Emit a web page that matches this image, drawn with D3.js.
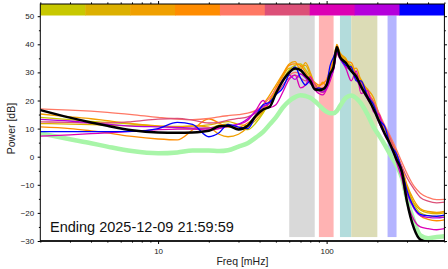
<!DOCTYPE html>
<html>
<head>
<meta charset="utf-8">
<script src="https://cdn.jsdelivr.net/npm/d3@7"></script>
<style>
  body { margin: 0; background: #fff; }
  svg { display: block; font-family: "Liberation Sans", Arial, Helvetica, sans-serif; }
  .axis path, .axis line { stroke: #000; }
  .axis text { fill: #222; font-size: 8px; }
</style>
</head>
<body>
<div id="chart"></div>
<script>
// Frequency grid (mHz) shared by every spectrum.
const freqs = [2, 3, 4, 5, 7, 10, 13, 16, 20, 23, 26, 30, 34, 38, 42, 46, 50, 55, 60, 65, 70, 75, 80, 85, 90, 95, 100, 105, 110, 115, 120, 130, 140, 150, 160, 175, 190, 205, 220, 240, 260, 280, 300, 330, 360, 400, 450, 500]

// Colours of the hourly spectra (same order as the colour bar on top).
const hourColours = ["#c8c800", "#dcb000", "#f0a000", "#ff8c00", "#ff7864", "#dc5078", "#dc00b4", "#b400dc", "#0000ff"]

// Power [dB] of each hourly spectrum.
const yellowSeries = [14.0, 13.2, 12.6, 12.2, 11.6, 10.8, 10.3, 10.0, 10.2, 11.2, 11.6, 10.0, 9.6, 12.0, 15.5, 19.5, 23.5, 27.5, 31.0, 32.5, 33.0, 31.0, 28.5, 25.5, 24.0, 23.0, 24.5, 29.0, 33.0, 38.0, 36.5, 33.5, 32.5, 28.5, 26.0, 22.5, 18.5, 14.0, 10.0, 5.0, 0.5, -4.5, -11.0, -17.0, -20.0, -21.0, -21.3, -21.0]
const goldSeries = [11.8, 11.6, 11.4, 11.2, 11.0, 10.8, 10.8, 10.9, 11.3, 12.0, 12.5, 11.5, 11.0, 13.0, 16.0, 20.0, 24.0, 28.5, 31.5, 31.0, 32.0, 32.5, 29.0, 25.0, 24.0, 24.5, 24.5, 29.5, 33.5, 39.0, 37.0, 34.5, 32.0, 29.5, 27.5, 23.0, 19.5, 14.5, 10.5, 5.5, 1.0, -4.5, -10.5, -16.5, -19.0, -20.0, -20.3, -20.0]
const orangeSeries = [15.2, 14.2, 13.5, 12.8, 11.8, 11.0, 10.6, 11.0, 10.5, 8.0, 7.1, 8.0, 10.5, 14.0, 18.5, 22.0, 25.5, 29.5, 33.0, 33.8, 31.0, 33.5, 30.0, 26.0, 25.0, 26.5, 25.0, 30.0, 34.0, 40.0, 37.0, 35.0, 31.0, 31.5, 27.0, 24.0, 21.0, 15.0, 11.0, 6.5, 1.5, -4.0, -10.0, -15.5, -18.5, -19.5, -19.8, -19.5]
const darkOrangeSeries = [10.6, 10.0, 9.2, 8.5, 7.2, 6.3, 6.0, 9.5, 13.5, 12.0, 10.5, 10.5, 12.0, 14.0, 16.5, 20.0, 24.5, 29.0, 32.5, 33.0, 32.5, 30.0, 27.5, 26.5, 25.5, 26.0, 27.5, 31.0, 35.0, 39.5, 36.5, 34.0, 33.5, 29.0, 27.0, 23.0, 19.0, 14.0, 10.5, 5.0, 0.0, -5.5, -12.0, -18.0, -21.0, -22.3, -22.8, -22.5]
const salmonSeries = [17.0, 16.6, 16.2, 15.8, 15.0, 14.0, 13.4, 13.2, 13.6, 14.2, 14.6, 15.0, 15.5, 16.5, 18.5, 21.0, 24.0, 27.0, 29.0, 30.0, 29.5, 28.5, 27.0, 25.5, 24.5, 24.5, 26.0, 29.0, 32.5, 37.0, 35.5, 33.0, 31.0, 29.0, 26.5, 23.0, 19.5, 15.5, 11.5, 7.0, 2.5, -2.0, -6.0, -10.5, -13.0, -14.5, -15.3, -15.2]
const pinkSeries = [12.4, 12.2, 12.0, 12.0, 12.5, 13.4, 13.6, 13.0, 12.0, 12.2, 13.0, 13.6, 14.2, 15.5, 17.5, 19.5, 22.0, 25.5, 28.0, 29.0, 28.0, 27.0, 28.0, 26.0, 23.5, 23.0, 25.0, 28.0, 31.5, 36.5, 35.0, 32.5, 31.5, 28.0, 26.5, 22.0, 19.5, 14.5, 11.0, 6.0, 1.0, -3.5, -7.5, -11.5, -14.5, -15.8, -16.4, -16.2]
const magentaSeries = [7.3, 7.8, 8.2, 8.5, 9.0, 9.6, 9.8, 9.8, 9.5, 10.0, 10.8, 11.5, 13.0, 16.5, 20.0, 17.5, 18.5, 23.0, 27.5, 29.0, 24.5, 25.5, 28.5, 24.0, 22.5, 22.0, 24.0, 27.0, 31.0, 37.0, 35.0, 31.5, 27.0, 30.5, 22.5, 23.5, 16.0, 15.0, 8.0, 4.5, -2.0, -8.0, -16.0, -22.5, -25.0, -25.6, -26.0, -25.6]
const purpleSeries = [13.3, 12.7, 12.0, 11.5, 10.9, 10.6, 10.4, 10.2, 10.2, 10.5, 11.0, 11.6, 13.5, 16.0, 18.0, 19.0, 22.5, 27.5, 29.0, 27.5, 29.5, 28.0, 26.0, 24.5, 23.5, 23.0, 24.5, 28.0, 31.0, 37.5, 35.0, 32.0, 30.5, 27.5, 24.5, 20.5, 17.0, 12.0, 8.0, 4.0, -1.0, -6.5, -13.0, -18.5, -21.0, -21.6, -21.8, -21.5]
const blueSeries = [8.9, 8.9, 8.9, 8.9, 9.0, 10.0, 12.2, 11.5, 7.1, 8.5, 11.5, 10.5, 10.0, 14.5, 18.5, 19.5, 22.0, 24.5, 29.5, 32.0, 28.0, 25.5, 27.0, 24.0, 24.5, 24.0, 26.0, 32.5, 35.5, 38.0, 35.5, 32.5, 32.0, 27.0, 27.0, 21.5, 18.5, 13.0, 11.0, 4.0, 1.0, -5.0, -12.0, -18.0, -20.5, -21.0, -21.2, -20.8]

// Daily mean spectrum and the reference noise model.
const meanSeries = [16.6, 13.9, 12.2, 11.0, 9.4, 8.6, 8.5, 8.6, 9.2, 10.8, 11.0, 9.7, 11.0, 14.5, 16.8, 17.8, 22.5, 27.0, 30.0, 31.4, 30.8, 28.8, 27.0, 24.0, 23.7, 24.0, 25.5, 29.5, 32.0, 39.0, 35.5, 33.4, 30.5, 28.5, 25.0, 21.0, 17.0, 12.5, 8.5, 4.0, -1.0, -5.5, -16.0, -25.5, -29.5, -30.3, -30.3, -30.3]
const noiseSeries = [8.3, 6.2, 4.8, 3.6, 2.0, 1.2, 1.5, 2.2, 2.2, 2.0, 2.3, 3.6, 4.8, 6.8, 8.8, 11.5, 14.0, 17.5, 19.8, 21.2, 21.9, 21.6, 21.0, 19.8, 18.4, 17.0, 16.0, 15.5, 15.5, 16.3, 18.0, 21.0, 21.8, 20.8, 19.0, 15.0, 10.5, 7.5, 4.5, 0.5, -3.0, -7.5, -15.0, -23.0, -28.0, -29.0, -28.6, -28.3]

// Frequency bands (mHz) shaded behind the spectra.
const bandStarts = [60, 90, 120, 140, 230]
const bandEnds = [85, 110, 140, 200, 260]
const bandColours = ["#d9d9d9", "#ffb3b3", "#b3dcdc", "#dcdcb6", "#b4b4ff"]

const title = "Ending 2025-12-09 21:59:59"

const width = 448
const height = 269
const plot = {left: 40.3, right: 444.4, top: 16.2, bottom: 241}
const barTop = 4
const barBottom = 15.5

/**
 * Builds the whole chart.
 */
const drawChart = () => {
  const svg = d3.select("#chart")
    .append("svg")
    .attr("width", width)
    .attr("height", height)

  const xScale = d3.scaleLog()
    .domain([2, 500])
    .range([plot.left, plot.right])
  const yScale = d3.scaleLinear()
    .domain([-30, 50])
    .range([plot.bottom, plot.top])

  _drawBands(svg, xScale, yScale)
  _drawSpectra(svg, xScale, yScale)
  _drawColourBar(svg)
  _drawAxes(svg, xScale, yScale)

  svg.append("text")
    .attr("x", 50)
    .attr("y", 231.5)
    .attr("font-size", "14.5px")
    .attr("fill", "#111")
    .text(title)
}

/**
 * Shaded frequency bands.
 */
const _drawBands = (svg, xScale, yScale) => {
  svg.append("g")
    .selectAll("rect")
    .data(bandStarts)
    .join("rect")
    .attr("x", d => xScale(d))
    .attr("width", (d, i) => xScale(bandEnds[i]) - xScale(d))
    .attr("y", barBottom)
    .attr("height", yScale(-28.6) - barBottom)
    .attr("fill", (d, i) => bandColours[i])
}

/**
 * Hourly spectra, then the noise model and the mean on top.
 */
const _drawSpectra = (svg, xScale, yScale) => {
  svg.append("clipPath")
    .attr("id", "plot-clip")
    .append("rect")
    .attr("x", plot.left)
    .attr("y", barBottom)
    .attr("width", plot.right - plot.left)
    .attr("height", plot.bottom - barBottom)

  const line = d3.line()
    .x((d, i) => xScale(freqs[i]))
    .y(d => yScale(d))
    .curve(d3.curveMonotoneX)

  const g = svg.append("g").attr("clip-path", "url(#plot-clip)")

  g.append("path")
    .datum(noiseSeries)
    .attr("d", line)
    .attr("fill", "none")
    .attr("stroke", "#a8f5a8")
    .attr("stroke-width", 4.5)

  const hourly = [yellowSeries, goldSeries, orangeSeries, darkOrangeSeries, salmonSeries, pinkSeries, magentaSeries, purpleSeries, blueSeries]
  hourly.forEach((series, i) => {
    g.append("path")
      .datum(series)
      .attr("d", line)
      .attr("fill", "none")
      .attr("stroke", hourColours[i])
      .attr("stroke-width", 1.3)
  })

  g.append("path")
    .datum(meanSeries)
    .attr("d", line)
    .attr("fill", "none")
    .attr("stroke", "#000")
    .attr("stroke-width", 2.5)
}

/**
 * Colour bar of the hours above the plot.
 */
const _drawColourBar = (svg) => {
  const barScale = d3.scaleBand()
    .domain(d3.range(hourColours.length))
    .range([plot.left, plot.right])

  svg.append("g")
    .selectAll("rect")
    .data(hourColours)
    .join("rect")
    .attr("x", (d, i) => barScale(i))
    .attr("y", barTop)
    .attr("width", barScale.bandwidth() + 0.5)
    .attr("height", barBottom - barTop)
    .attr("fill", d => d)
}

/**
 * Axes on all four sides, with minor ticks.
 */
const _drawAxes = (svg, xScale, yScale) => {
  const logTicks = xScale.ticks()
  const majorX = [10, 100]
  const minorX = logTicks.filter(d => !majorX.includes(d))
  const majorY = d3.range(-30, 51, 10)
  const minorY = d3.range(-25, 50, 10)

  // Bottom
  svg.append("g")
    .attr("class", "axis")
    .attr("transform", "translate(0," + plot.bottom + ")")
    .call(d3.axisBottom(xScale).tickValues(majorX).tickFormat(d3.format("d")).tickSize(3).tickPadding(4.5))
  svg.append("g")
    .attr("class", "axis")
    .attr("transform", "translate(0," + plot.bottom + ")")
    .call(d3.axisBottom(xScale).tickValues(minorX).tickFormat("").tickSize(1.6))

  // Top (above the colour bar)
  svg.append("g")
    .attr("class", "axis")
    .attr("transform", "translate(0," + barTop + ")")
    .call(d3.axisTop(xScale).tickValues(majorX).tickFormat("").tickSize(3))
  svg.append("g")
    .attr("class", "axis")
    .attr("transform", "translate(0," + barTop + ")")
    .call(d3.axisTop(xScale).tickValues(minorX).tickFormat("").tickSize(1.6))

  // Left
  svg.append("g")
    .attr("class", "axis")
    .attr("transform", "translate(" + plot.left + ",0)")
    .call(d3.axisLeft(yScale).tickValues(majorY).tickFormat(d => d < 0 ? "\u2212" + Math.abs(d) : d).tickSize(2.6).tickPadding(3.5))
  svg.append("g")
    .attr("class", "axis")
    .attr("transform", "translate(" + plot.left + ",0)")
    .call(d3.axisLeft(yScale).tickValues(minorY).tickFormat("").tickSize(1.4))

  // Right
  svg.append("g")
    .attr("class", "axis")
    .attr("transform", "translate(" + plot.right + ",0)")
    .call(d3.axisRight(yScale).tickValues(majorY).tickFormat("").tickSize(2.6))
  svg.append("g")
    .attr("class", "axis")
    .attr("transform", "translate(" + plot.right + ",0)")
    .call(d3.axisRight(yScale).tickValues(minorY).tickFormat("").tickSize(1.4))

  // Remove the domain lines and draw the frame once.
  svg.selectAll(".axis .domain").remove()
  svg.append("rect")
    .attr("x", plot.left)
    .attr("y", barTop)
    .attr("width", plot.right - plot.left)
    .attr("height", plot.bottom - barTop)
    .attr("fill", "none")
    .attr("stroke", "#000")
    .attr("stroke-width", 1)
  svg.append("line")
    .attr("x1", plot.left)
    .attr("x2", plot.right)
    .attr("y1", plot.bottom)
    .attr("y2", plot.bottom)
    .attr("stroke", "#000")
    .attr("stroke-width", 1.4)

  svg.append("text")
    .attr("transform", "translate(15," + ((plot.top + plot.bottom) / 2) + ") rotate(-90)")
    .attr("text-anchor", "middle")
    .attr("font-size", "10.5px")
    .attr("fill", "#222")
    .text("Power [dB]")

  svg.append("text")
    .attr("x", (plot.left + plot.right) / 2)
    .attr("y", 265)
    .attr("text-anchor", "middle")
    .attr("font-size", "10.5px")
    .attr("fill", "#222")
    .text("Freq [mHz]")
}

drawChart()
</script>
</body>
</html>
